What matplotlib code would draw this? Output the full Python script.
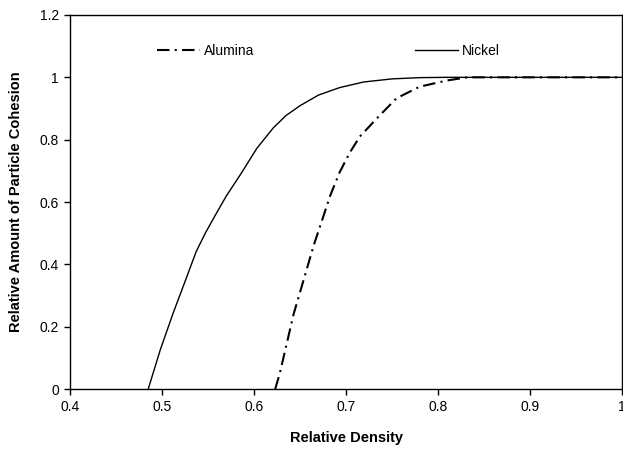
import numpy as np
import matplotlib.pyplot as plt

plt.rcParams['font.family'] = ['Liberation Sans', 'DejaVu Sans']

# Nickel: relative density vs relative amount of particle cohesion
nickel_x = [0.485, 0.498, 0.512, 0.525, 0.537, 0.547, 0.557, 0.570, 0.585, 0.603, 0.621,
            0.635, 0.650, 0.670, 0.693, 0.719, 0.750, 0.780, 0.810, 0.850, 0.900, 0.950, 1.000]
nickel_y = [0.000, 0.125, 0.243, 0.345, 0.440, 0.500, 0.553, 0.620, 0.687, 0.772, 0.838,
            0.878, 0.909, 0.943, 0.967, 0.985, 0.995, 0.999, 1.000, 1.000, 1.000, 1.000, 1.000]

# Alumina
alumina_x = [0.623, 0.628, 0.643, 0.665, 0.683, 0.693, 0.704, 0.715, 0.737, 0.755, 0.780,
             0.810, 0.832, 0.870, 0.900, 0.950, 1.000]
alumina_y = [0.000, 0.050, 0.240, 0.462, 0.622, 0.695, 0.758, 0.810, 0.879, 0.933, 0.970,
             0.990, 1.000, 1.000, 1.000, 1.000, 1.000]

xticks = [0.4, 0.5, 0.6, 0.7, 0.8, 0.9, 1.0]
xticklabels = ['0.4', '0.5', '0.6', '0.7', '0.8', '0.9', '1']
yticks = [0, 0.2, 0.4, 0.6, 0.8, 1.0, 1.2]
yticklabels = ['0', '0.2', '0.4', '0.6', '0.8', '1', '1.2']

fig = plt.figure(figsize=(6.23, 4.54), dpi=100)
ax = fig.add_axes([0.1124, 0.143, 0.886, 0.824])

ax.plot(alumina_x, alumina_y, color='black', linewidth=1.5,
        linestyle=(0, (6, 2.5, 1, 2.5)), label='Alumina')
ax.plot(nickel_x, nickel_y, color='black', linewidth=1.0, label='Nickel')

ax.set_xlim(0.4, 1.0)
ax.set_ylim(0, 1.2)
ax.set_xticks(xticks)
ax.set_xticklabels(xticklabels)
ax.set_yticks(yticks)
ax.set_yticklabels(yticklabels)
ax.tick_params(direction='out', length=4, width=1, labelsize=10, pad=4)
for s in ax.spines.values():
    s.set_linewidth(1.0)

ax.set_xlabel('Relative Density', fontsize=10.5, fontweight='bold', labelpad=12)
ax.set_ylabel('Relative Amount of Particle Cohesion', fontsize=10.5,
              fontweight='bold', labelpad=12)

ax.legend(loc='upper left', bbox_to_anchor=(0.135, 0.955), ncol=2, frameon=False,
          fontsize=10, handlelength=3.1, handletextpad=0.25, columnspacing=11.6)

fig.savefig('out.png', dpi=100)
